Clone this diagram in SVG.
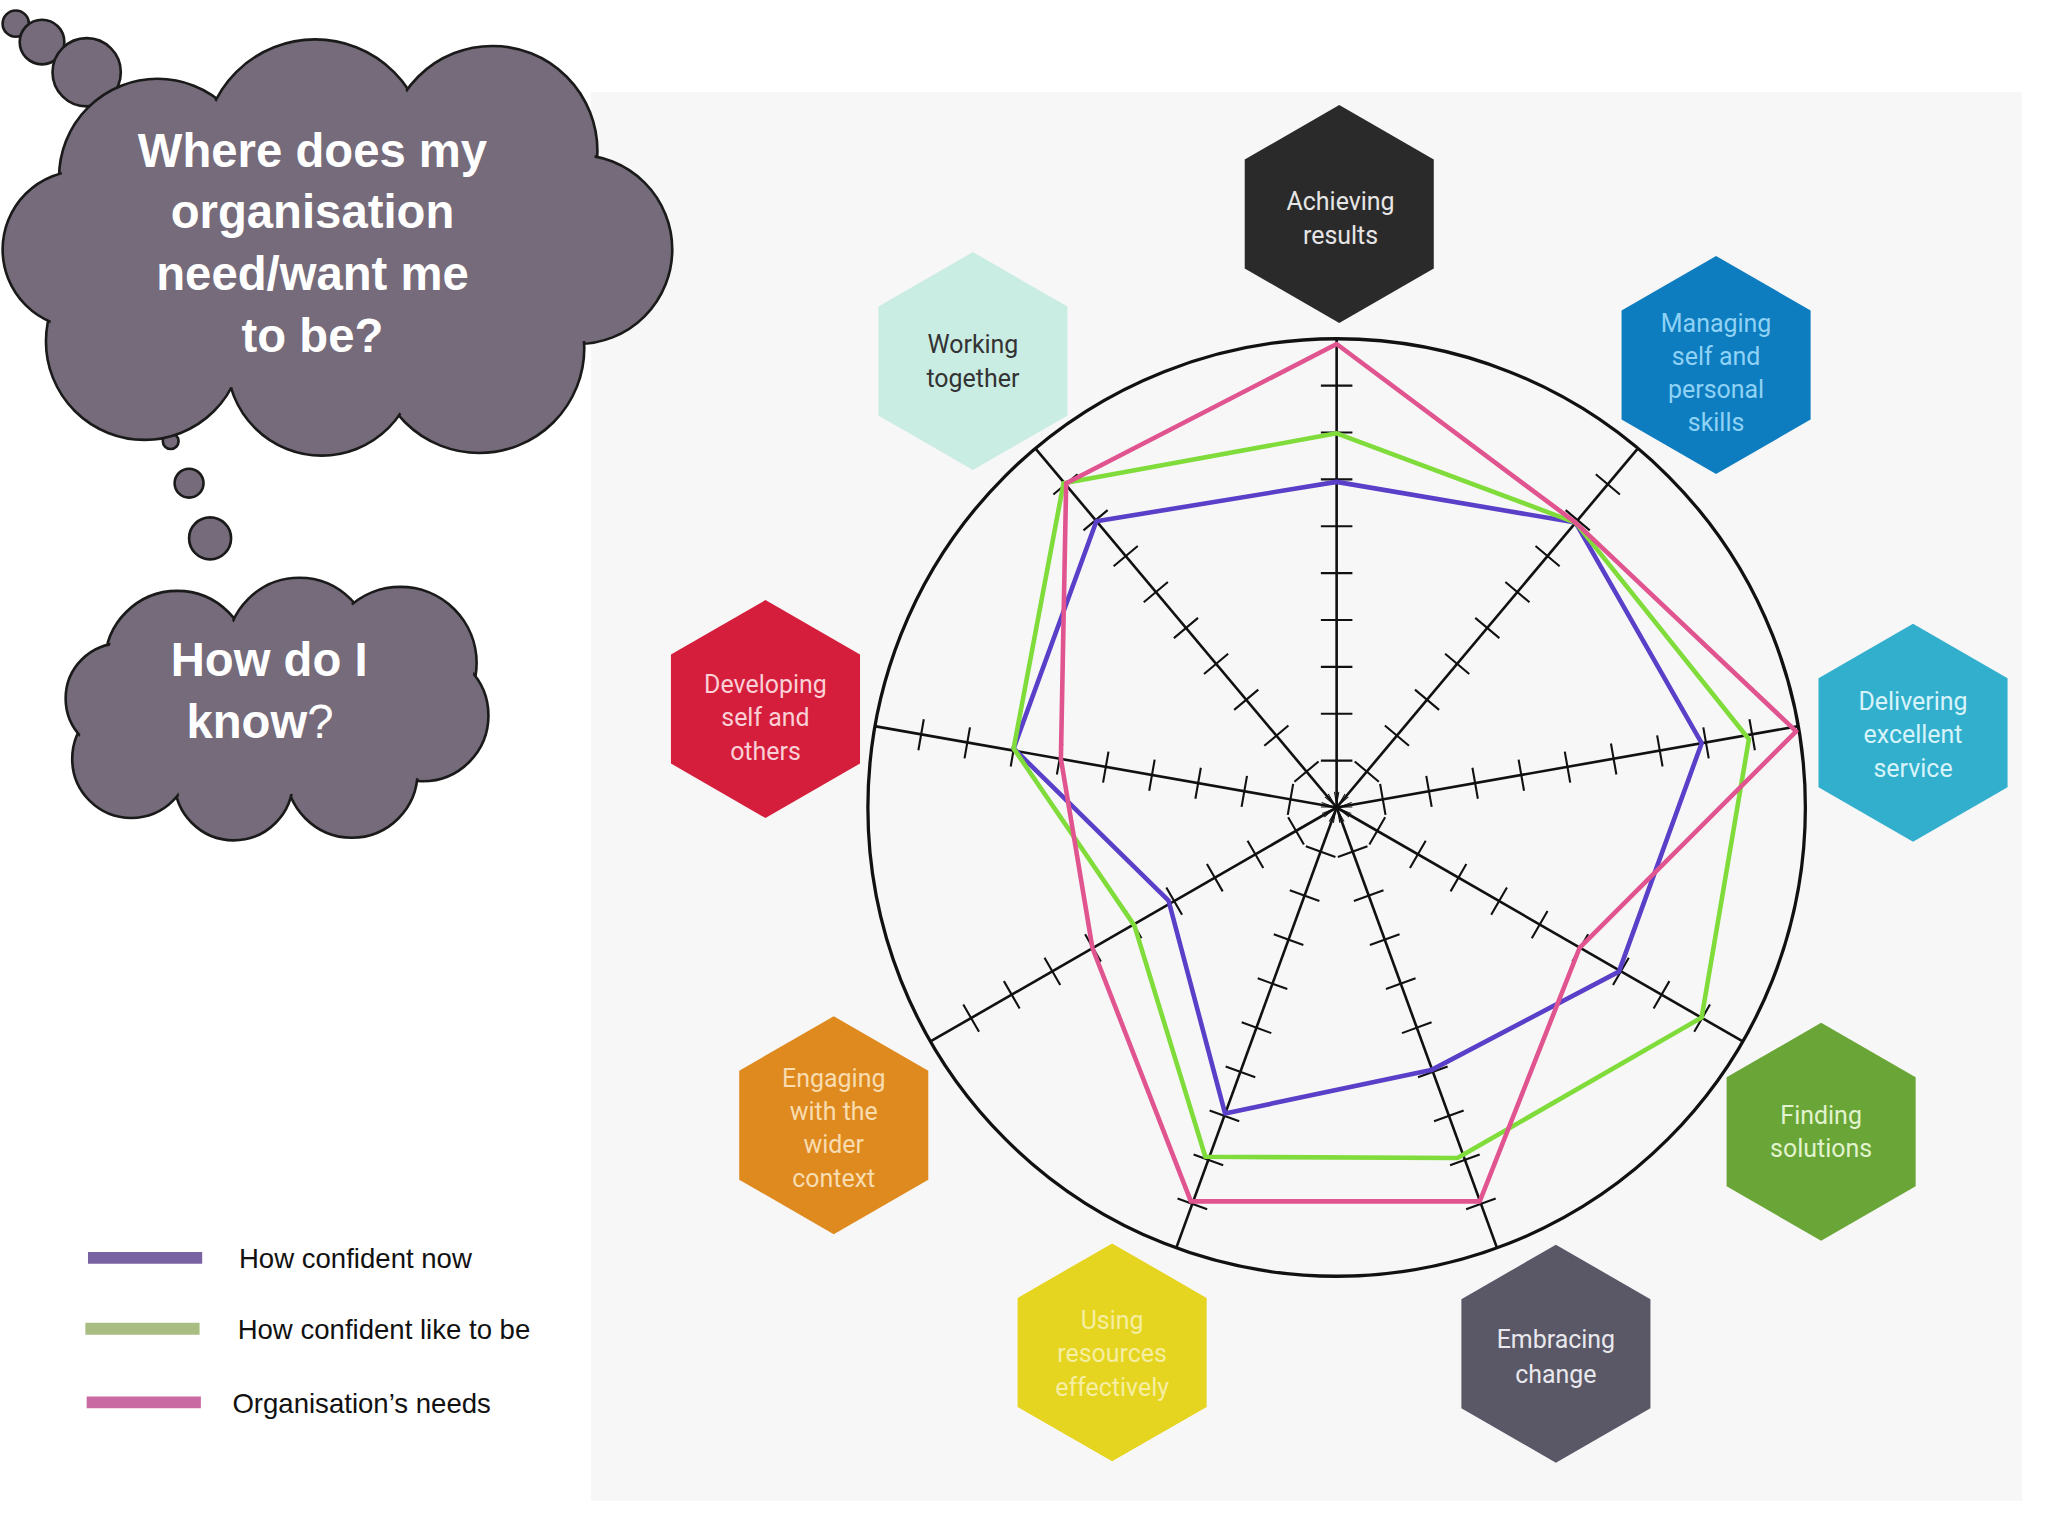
<svg xmlns="http://www.w3.org/2000/svg" width="2048" height="1536" viewBox="0 0 2048 1536">
<defs>
<style>
.hx{stroke:none}
.ht{font-family:"Roboto","Liberation Sans",sans-serif;font-size:19px;text-anchor:middle}
.cl{fill:#756b7a;stroke:#1a1a1a;stroke-width:2}
.cf{fill:#756b7a}
.ct{font-family:"Liberation Sans",Arial,sans-serif;font-weight:bold;font-size:36px;fill:#fff;text-anchor:middle}
.sp{stroke:#111;stroke-width:2}
.tk{stroke:#111;stroke-width:24;stroke-dasharray:1.6 34.1;stroke-dashoffset:-34.9;fill:none}
.lg{font-family:"Liberation Sans",Arial,sans-serif;font-size:21px;fill:#111}
.s{fill:none;stroke-width:3.5;stroke-linejoin:round}
</style>
<polygon id="hex" points="0,-83 72,-41.5 72,41.5 0,83 -72,41.5 -72,-41.5"/>
</defs>
<rect width="2048" height="1536" fill="#fff"/>
<g transform="scale(1.313)">
<rect x="450" y="70" width="1090" height="1073" fill="#f8f7f8"/>
<g id="clouds">
<g id="cloud1">
<g class="cl"><circle cx="12" cy="18" r="10"/><circle cx="32" cy="32" r="17"/><circle cx="66" cy="55" r="26"/>
<circle cx="130" cy="336" r="6"/><circle cx="144" cy="368" r="11"/><circle cx="160" cy="410" r="16"/>
<circle cx="120" cy="135" r="75"/><circle cx="240" cy="115" r="85"/><circle cx="375" cy="115" r="80"/><circle cx="440" cy="190" r="72"/><circle cx="365" cy="265" r="80"/><circle cx="245" cy="275" r="72"/><circle cx="110" cy="260" r="75"/><circle cx="62" cy="190" r="60"/></g>
<g class="cf"><circle cx="120" cy="135" r="73"/><circle cx="240" cy="115" r="83"/><circle cx="375" cy="115" r="78"/><circle cx="440" cy="190" r="70"/><circle cx="365" cy="265" r="78"/><circle cx="245" cy="275" r="70"/><circle cx="110" cy="260" r="73"/><circle cx="62" cy="190" r="58"/><ellipse cx="255" cy="195" rx="190" ry="110"/></g>
<text class="ct" x="238" y="127">Where does my</text>
<text class="ct" x="238" y="174">organisation</text>
<text class="ct" x="238" y="221">need/want me</text>
<text class="ct" x="238" y="268">to be?</text>
</g>
<g id="cloud2">
<g class="cl"><circle cx="135" cy="505" r="55"/><circle cx="228" cy="495" r="55"/><circle cx="305" cy="505" r="58"/><circle cx="322" cy="545" r="50"/><circle cx="268" cy="588" r="50"/><circle cx="178" cy="595" r="45"/><circle cx="100" cy="578" r="45"/><circle cx="92" cy="532" r="42"/></g>
<g class="cf"><circle cx="135" cy="505" r="53"/><circle cx="228" cy="495" r="53"/><circle cx="305" cy="505" r="56"/><circle cx="322" cy="545" r="48"/><circle cx="268" cy="588" r="48"/><circle cx="178" cy="595" r="43"/><circle cx="100" cy="578" r="43"/><circle cx="92" cy="532" r="40"/><ellipse cx="210" cy="545" rx="115" ry="60"/></g>
<text class="ct" x="205" y="515">How do I</text>
<text class="ct" x="198" y="562">know<tspan font-weight="normal">?</tspan></text>
</g>
</g>
<g id="chart">
<circle cx="1018" cy="615" r="357" fill="none" stroke="#111" stroke-width="2.5"/>
<g id="spokes">
<line class="sp" x1="1018" y1="615" x2="1018" y2="258"/>
<line class="sp" x1="1018" y1="615" x2="1247" y2="342"/>
<line class="sp" x1="1018" y1="615" x2="1370" y2="553"/>
<line class="sp" x1="1018" y1="615" x2="1327" y2="793"/>
<line class="sp" x1="1018" y1="615" x2="1140" y2="950"/>
<line class="sp" x1="1018" y1="615" x2="896" y2="950"/>
<line class="sp" x1="1018" y1="615" x2="709" y2="793"/>
<line class="sp" x1="1018" y1="615" x2="666" y2="553"/>
<line class="sp" x1="1018" y1="615" x2="789" y2="342"/>
<line class="tk" x1="1018" y1="615" x2="1018" y2="290"/>
<line class="tk" x1="1018" y1="615" x2="1227" y2="366"/>
<line class="tk" x1="1018" y1="615" x2="1338" y2="559"/>
<line class="tk" x1="1018" y1="615" x2="1299" y2="777"/>
<line class="tk" x1="1018" y1="615" x2="1129" y2="920"/>
<line class="tk" x1="1018" y1="615" x2="907" y2="920"/>
<line class="tk" x1="1018" y1="615" x2="737" y2="777"/>
<line class="tk" x1="1018" y1="615" x2="698" y2="559"/>
<line class="tk" x1="1018" y1="615" x2="809" y2="366"/>
</g>
<g id="series">
<polygon class="s" stroke="#5a3fc8" points="1018,367 1200,398 1296,566 1233,740 1090,815 933,848 890,686 772,570 835,397"/>
<polygon class="s" stroke="#7fdc3a" points="1018,330 1200,398 1332,563 1296,775 1110,882 918,881 864,705 772,570 810,368"/>
<polygon class="s" stroke="#e0558f" points="1018,262 1200,398 1368,557 1203,722 1127,915 907,915 832,722 808,578 812,368"/>
</g>
</g>
<g id="n-achieving"><use href="#hex" x="1020" y="163" fill="#2b2a2a"/><text class="ht" fill="#e6e6e6" x="1021" y="160">Achieving</text><text class="ht" fill="#e6e6e6" x="1021" y="186">results</text></g>
<g id="n-managing"><use href="#hex" x="1307" y="278" fill="#0d7dbf"/><text class="ht" fill="#8fd2f5" x="1307" y="253">Managing</text><text class="ht" fill="#8fd2f5" x="1307" y="278">self and</text><text class="ht" fill="#8fd2f5" x="1307" y="303">personal</text><text class="ht" fill="#8fd2f5" x="1307" y="328">skills</text></g>
<g id="n-delivering"><use href="#hex" x="1457" y="558" fill="#32afcc"/><text class="ht" fill="#d8f4fb" x="1457" y="541">Delivering</text><text class="ht" fill="#d8f4fb" x="1457" y="566">excellent</text><text class="ht" fill="#d8f4fb" x="1457" y="592">service</text></g>
<g id="n-finding"><use href="#hex" x="1387" y="862" fill="#69a637"/><text class="ht" fill="#e2f3cf" x="1387" y="856">Finding</text><text class="ht" fill="#e2f3cf" x="1387" y="881">solutions</text></g>
<g id="n-embracing"><use href="#hex" x="1185" y="1031" fill="#5a5866"/><text class="ht" fill="#e8e8ee" x="1185" y="1027">Embracing</text><text class="ht" fill="#e8e8ee" x="1185" y="1053">change</text></g>
<g id="n-using"><use href="#hex" x="847" y="1030" fill="#e5d520"/><text class="ht" fill="#f6eea0" x="847" y="1012">Using</text><text class="ht" fill="#f6eea0" x="847" y="1037">resources</text><text class="ht" fill="#f6eea0" x="847" y="1063">effectively</text></g>
<g id="n-engaging"><use href="#hex" x="635" y="857" fill="#de8a1f"/><text class="ht" fill="#f9dcb0" x="635" y="828">Engaging</text><text class="ht" fill="#f9dcb0" x="635" y="853">with the</text><text class="ht" fill="#f9dcb0" x="635" y="878">wider</text><text class="ht" fill="#f9dcb0" x="635" y="904">context</text></g>
<g id="n-developing"><use href="#hex" x="583" y="540" fill="#d51e3c"/><text class="ht" fill="#fad0d6" x="583" y="528">Developing</text><text class="ht" fill="#fad0d6" x="583" y="553">self and</text><text class="ht" fill="#fad0d6" x="583" y="579">others</text></g>
<g id="n-working"><use href="#hex" x="741" y="275" fill="#c9ece3"/><text class="ht" fill="#333" x="741" y="269">Working</text><text class="ht" fill="#333" x="741" y="295">together</text></g>
<g id="legend">
<line x1="67" y1="958" x2="154" y2="958" stroke="#7a63a3" stroke-width="9"/>
<line x1="65" y1="1012" x2="152" y2="1012" stroke="#a9bd83" stroke-width="9"/>
<line x1="66" y1="1068" x2="153" y2="1068" stroke="#c96ba2" stroke-width="9"/>
<text class="lg" x="182" y="966">How confident now</text>
<text class="lg" x="181" y="1020">How confident like to be</text>
<text class="lg" x="177" y="1076">Organisation’s needs</text>
</g>
</g>
</svg>
